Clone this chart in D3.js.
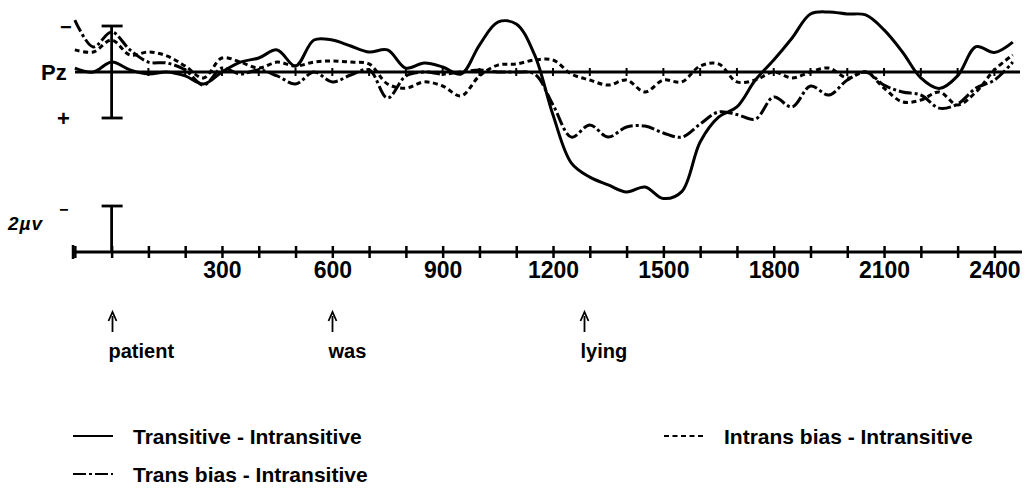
<!DOCTYPE html>
<html>
<head>
<meta charset="utf-8">
<script src="https://cdn.jsdelivr.net/npm/d3@7"></script>
<style>
  body { margin: 0; background: #fff; }
  text { font-family: "Liberation Sans", Arial, sans-serif; font-weight: bold; fill: #000; }
</style>
</head>
<body>
<div id="chart"></div>
<script>
// time points (ms) shared by the three difference waves
const times = d3.range(-100, 2451, 50)

// amplitudes in microvolts (negative plotted up)
const transitive = [-0.17, 0, -0.43, -0.09, 0.09, 0, 0.17, 0.52, 0, -0.43, -0.61, -0.96, -0.26,
  -1.39, -1.39, -1.13, -0.87, -0.96, -0.17, -0.39, -0.22, 0.09, -1.17, -2.17, -2.09, -0.74,
  1.87, 3.96, 4.57, 4.91, 5.22, 5.0, 5.5, 5.2, 3.04, 1.96, 1.52, 0.35, -0.52, -1.48, -2.52,
  -2.61, -2.52, -2.48, -1.83, -0.87, 0.26, 0.72, 0.17, -1.1, -0.85, -1.3]

const transBias = [-2.26, -1.09, -1.74, -0.96, -0.43, -0.39, -0.09, 0.57, -0.17, 0.09, -0.09,
  0.17, 0.52, 0, 0.43, 0.13, -0.09, 1.13, 0.17, 0, 0.09, 0, -0.09, 0, 0, 0.09, 1.43, 2.83,
  2.30, 2.83, 2.39, 2.35, 2.65, 2.83, 2.26, 1.74, 1.85, 2.05, 1.09, 1.52, 0.61, 1.0, 0.35, 0,
  0.57, 0.87, 1.0, 1.57, 1.39, 0.70, 0.35, -0.43]

const intransBias = [-0.96, -0.87, -1.39, -0.74, -0.87, -0.70, -0.26, 0.26, -0.61, -0.43, -0.17,
  -0.43, -0.26, -0.43, -0.48, -0.43, -0.35, 0.52, 0.70, 0.43, 0.61, 1.04, 0.17, -0.30, -0.35,
  -0.52, -0.52, 0.09, 0.35, 0.57, 0.35, 0.87, 0.35, 0.43, -0.26, -0.35, 0.43, 0.35, 0, 0.26, 0,
  -0.17, 0.26, 0, 0.70, 1.30, 1.22, 0.87, 1.43, 0.87, -0.09, -0.74]

const tickTimes = d3.range(-100, 2401, 100)
const labelTimes = [300, 600, 900, 1200, 1500, 1800, 2100, 2400]

const words = ['patient', 'was', 'lying']
const wordTimes = [0, 600, 1285]

const legendNames = ['Transitive - Intransitive', 'Intrans bias - Intransitive', 'Trans bias - Intransitive']

;(function () {

  const width = 1027
  const height = 494

  const svg = d3.select("#chart").append("svg")
      .attr("width", width)
      .attr("height", height)

  const xPositionScale = d3.scaleLinear()
    .domain([-105, 2475])
    .range([73, 1022])

  // one microvolt ~ 23px, negative up
  const yPositionScale = d3.scaleLinear()
    .domain([-2, 2])
    .range([26, 118])

  const lineWidth = 3
  const styles = {
    transitive: null,
    transBias: '13,3,3,3',
    intransBias: '5,3.5'
  }

  // Pz baseline with small ticks
  svg.append('line')
    .attr('x1', 75).attr('x2', 1020)
    .attr('y1', yPositionScale(0)).attr('y2', yPositionScale(0))
    .attr('stroke', '#000').attr('stroke-width', 2.8)

  svg.selectAll('.base-tick')
    .data(tickTimes.filter(d => d > 0))
    .join('line')
    .attr('class', 'base-tick')
    .attr('x1', d => xPositionScale(d)).attr('x2', d => xPositionScale(d))
    .attr('y1', yPositionScale(0) - 4).attr('y2', yPositionScale(0) + 4)
    .attr('stroke', '#000').attr('stroke-width', 2)

  // calibration bar at stimulus onset
  const x0 = xPositionScale(0)
  svg.append('line')
    .attr('x1', x0).attr('x2', x0)
    .attr('y1', yPositionScale(-2)).attr('y2', yPositionScale(2))
    .attr('stroke', '#000').attr('stroke-width', 2.8)
  ;[-2, 2].forEach(v => {
    svg.append('line')
      .attr('x1', x0 - 10).attr('x2', x0 + 11)
      .attr('y1', yPositionScale(v)).attr('y2', yPositionScale(v))
      .attr('stroke', '#000').attr('stroke-width', 2.8)
  })

  // the curves
  const line = d3.line()
    .x((d, i) => xPositionScale(times[i]))
    .y(d => yPositionScale(d))
    .curve(d3.curveCatmullRom.alpha(0.5))

  const series = [
    { name: 'transitive', values: transitive },
    { name: 'transBias', values: transBias },
    { name: 'intransBias', values: intransBias }
  ]

  svg.selectAll('.wave')
    .data(series)
    .join('path')
    .attr('class', 'wave')
    .attr('d', d => line(d.values))
    .attr('fill', 'none')
    .attr('stroke', '#000')
    .attr('stroke-width', lineWidth)
    .attr('stroke-linejoin', 'round')
    .attr('stroke-dasharray', d => styles[d.name])

  // labels on the left
  svg.append('text').attr('x', 60).attr('y', 34).style('font-size', '20px').text('−')
  svg.append('text').attr('x', 41).attr('y', 80)
    .style('font-family', '"Liberation Sans Narrow", "Liberation Sans", sans-serif')
    .style('font-size', '22px').text('Pz')
  svg.append('text').attr('x', 57).attr('y', 126).style('font-size', '22px').text('+')

  // time axis with its own calibration bar
  const axisY = 252
  const xAxis = d3.axisBottom(xPositionScale)
    .tickValues(tickTimes)
    .tickSize(6)
    .tickPadding(4)
    .tickFormat(d => labelTimes.includes(d) ? d : '')

  const axisG = svg.append("g")
    .attr("class", "axis x-axis")
    .attr("transform", "translate(0," + axisY + ")")
    .call(xAxis)

  axisG.select('.domain').remove()
  axisG.append('line')
    .attr('x1', 73).attr('x2', 1022)
    .attr('stroke', '#000').attr('stroke-width', 2.8)
  axisG.selectAll('.tick line')
    .attr('y1', -6).attr('y2', 6)
    .attr('stroke-width', 2.5)
  axisG.append('line')
    .attr('x1', 73).attr('x2', 73).attr('y1', -7).attr('y2', 7)
    .attr('stroke', '#000').attr('stroke-width', 2.5)
  axisG.selectAll('.tick text')
    .attr('dy', '0.71em')
    .style('font-size', '23px')
    .style('font-family', '"Liberation Sans", Arial, sans-serif')
    .style('font-weight', 'bold')

  svg.append('line')
    .attr('x1', x0).attr('x2', x0).attr('y1', axisY - 46).attr('y2', axisY)
    .attr('stroke', '#000').attr('stroke-width', 2.8)
  svg.append('line')
    .attr('x1', x0 - 10).attr('x2', x0 + 11).attr('y1', axisY - 46).attr('y2', axisY - 46)
    .attr('stroke', '#000').attr('stroke-width', 2.8)
  svg.append('text').attr('x', 8).attr('y', 230).style('font-size', '19px')
    .style('font-style', 'italic').attr('textLength', 34).text('2µv')
  svg.append('text').attr('x', 59).attr('y', 215).style('font-size', '16px').text('−')

  // word onsets
  words.forEach((w, i) => {
    const wx = Math.round(xPositionScale(wordTimes[i])) + 0.5
    svg.append('line')
      .attr('x1', wx).attr('x2', wx).attr('y1', 316).attr('y2', 332)
      .attr('stroke', '#000').attr('stroke-width', 1.8)
    svg.append('path')
      .attr('d', `M${wx - 4},${321} L${wx},${312} L${wx + 4},${321}`)
      .attr('fill', 'none').attr('stroke', '#000').attr('stroke-width', 1.8)
    svg.append('text')
      .attr('x', wx - 4).attr('y', 358)
      .style('font-size', '20px')
      .text(w)
  })

  // legend
  const legendPos = [[73, 437], [664, 437], [73, 475]]
  const legendStyle = [null, '5,3.5', '13,3,3,3']
  legendNames.forEach((name, i) => {
    const [lx, ly] = legendPos[i]
    svg.append('line')
      .attr('x1', lx).attr('x2', lx + 40)
      .attr('y1', ly - 1).attr('y2', ly - 1)
      .attr('stroke', '#000').attr('stroke-width', 2)
      .attr('stroke-dasharray', legendStyle[i])
    svg.append('text')
      .attr('x', lx + 60).attr('y', ly + 7)
      .style('font-size', '21px')
      .text(name)
  })

})();
</script>
</body>
</html>
